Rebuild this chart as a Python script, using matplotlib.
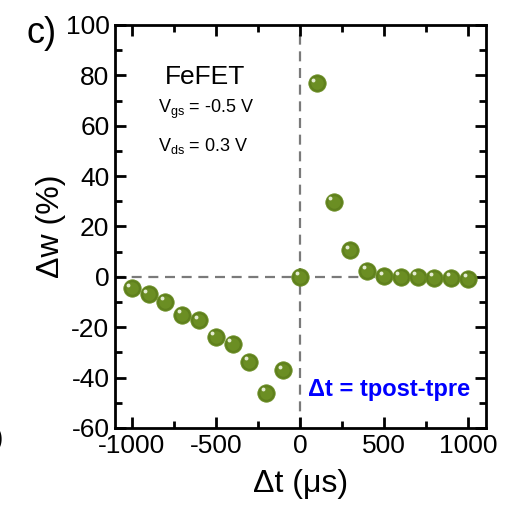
import matplotlib
matplotlib.use("Agg")
import matplotlib.pyplot as plt
from matplotlib.ticker import MultipleLocator
from matplotlib import font_manager

# Spike-timing data: weight change vs. pulse interval
dt_us = [-1000, -900, -800, -700, -600, -500, -400, -300, -200, -100,
         0, 100, 200, 300, 400, 500, 600, 700, 800, 900, 1000]
dw_pct = [-4.5, -7.0, -9.9, -15.0, -17.2, -23.8, -26.5, -33.8, -46.1, -37.1,
          0.0, 76.8, 29.8, 10.6, 2.4, 0.3, 0.0, 0.0, -0.4, -0.4, -0.8]

x_ticks = [-1000, -500, 0, 500, 1000]
y_ticks = [-60, -40, -20, 0, 20, 40, 60, 80, 100]

names = {f.name for f in font_manager.fontManager.ttflist}
family = "Liberation Sans Narrow" if "Liberation Sans Narrow" in names else "Liberation Sans"
plt.rcParams["font.family"] = [family, "DejaVu Sans"]
plt.rcParams["mathtext.fontset"] = "custom"
plt.rcParams["mathtext.rm"] = family
plt.rcParams["mathtext.it"] = family

fig = plt.figure(figsize=(5.15, 5.05), dpi=100)
ax = fig.add_axes([0.2233, 0.1525, 0.7204, 0.798])

ax.axhline(0, color="#7a7a7a", lw=1.6, ls=(0, (4.5, 3)), zorder=1)
ax.axvline(0, color="#7a7a7a", lw=1.6, ls=(0, (4.5, 3)), zorder=1)

# shaded sphere markers: body, soft shading, small highlight
ax.plot(dt_us, dw_pct, "o", ms=12.5, color="#5f801d", mec="#6b8e23", mew=0.6,
        ls="none", zorder=3)
ax.plot(dt_us, dw_pct, "o", ms=9, color="#6b8e23", mew=0, ls="none", zorder=4)
hx = [x - 20 for x in dt_us]
hy = [y + 1.4 for y in dw_pct]
ax.plot(hx, hy, "o", ms=2.8, color="#e4ecd2", mew=0, ls="none", zorder=5)

ax.set_xlim(-1100, 1107)
ax.set_ylim(-60, 100)
ax.set_xticks(x_ticks)
ax.set_yticks(y_ticks)
ax.set_xticklabels([str(v) for v in x_ticks])
ax.set_yticklabels([str(v) for v in y_ticks])
ax.xaxis.set_minor_locator(MultipleLocator(250))
ax.yaxis.set_minor_locator(MultipleLocator(10))
ax.tick_params(which="both", direction="in", top=True, right=True, width=2,
               labelsize=19, pad=4)
ax.tick_params(which="major", length=8)
ax.tick_params(which="minor", length=5)
for s in ax.spines.values():
    s.set_linewidth(2)

ax.set_xlabel("Δt (μs)", fontsize=23, labelpad=8)
ax.set_ylabel("Δw (%)", fontsize=23, labelpad=0)

ax.text(0.135, 0.87, "FeFET", transform=ax.transAxes, fontsize=19,
        ha="left", va="center")
ax.text(0.116, 0.79, r"V$_{\mathrm{gs}}$ = -0.5 V", transform=ax.transAxes,
        fontsize=13, ha="left", va="center")
ax.text(0.116, 0.70, r"V$_{\mathrm{ds}}$ = 0.3 V", transform=ax.transAxes,
        fontsize=13, ha="left", va="center")
ax.text(0.52, 0.095, "Δt = tpost-tpre", transform=ax.transAxes, fontsize=17,
        fontweight="bold", color="#0000ff", ha="left", va="center")

fig.text(0.052, 0.933, "c)", fontsize=26, ha="left", va="center")
fig.text(-0.012, 0.13, ")", fontsize=20, ha="left", va="center")

fig.savefig("out.png", dpi=100)
